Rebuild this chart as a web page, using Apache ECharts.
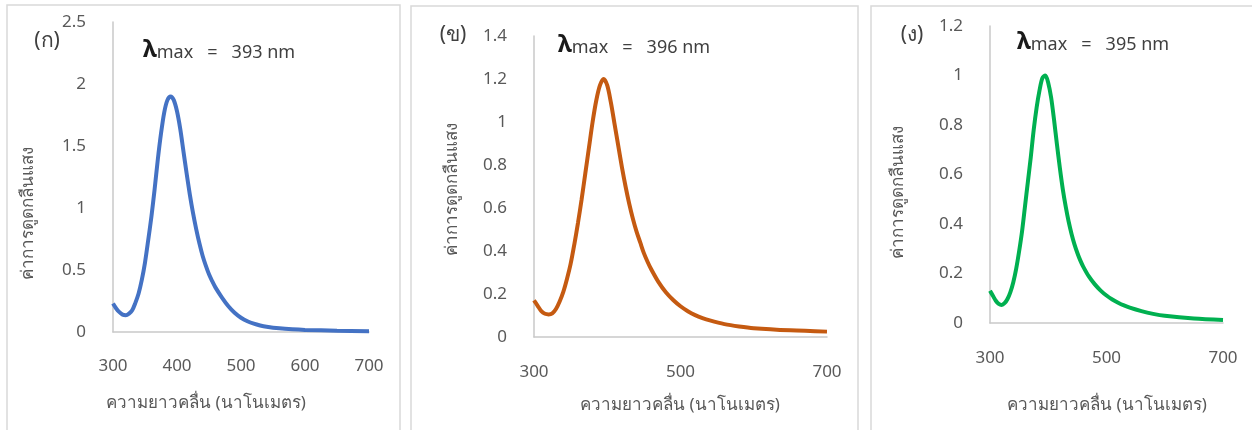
<!DOCTYPE html>
<html><head><meta charset="utf-8">
<script src="https://cdn.jsdelivr.net/npm/echarts@6/dist/echarts.min.js"></script>
<style>html,body{margin:0;padding:0;background:#fff}#c{width:1252px;height:430px}</style>
</head><body><div id="c"></div>
<script>
// Panel (ก)
const wl1 = [300,305,310,315,320,325,330,335,340,345,350,355,360,365,370,375,380,385,390,395,400,405,410,415,420,425,430,435,440,445,450,455,460,470,480,490,500,510,520,530,540,560,580,600,650,700];
const abs1 = [0.23,0.19,0.16,0.14,0.135,0.148,0.175,0.235,0.31,0.42,0.56,0.74,0.93,1.15,1.39,1.60,1.77,1.87,1.90,1.87,1.78,1.64,1.46,1.28,1.11,0.96,0.83,0.715,0.615,0.535,0.465,0.41,0.36,0.28,0.21,0.155,0.115,0.087,0.067,0.053,0.043,0.030,0.022,0.017,0.010,0.006];
// Panel (ข)
const wl2 = [300,305,310,315,320,325,330,335,340,345,350,355,360,365,370,375,380,385,390,395,400,405,410,415,420,425,430,435,440,445,450,455,460,470,480,490,500,510,520,530,540,560,580,600,650,700];
const abs2 = [0.17,0.145,0.12,0.108,0.105,0.11,0.13,0.165,0.21,0.27,0.34,0.43,0.53,0.64,0.76,0.88,1.00,1.10,1.17,1.20,1.17,1.09,0.99,0.89,0.79,0.70,0.62,0.55,0.49,0.44,0.39,0.35,0.315,0.255,0.208,0.172,0.143,0.12,0.102,0.088,0.077,0.060,0.049,0.041,0.031,0.025];
// Panel (ง)
const wl3 = [300,305,310,315,320,325,330,335,340,345,350,355,360,365,370,375,380,385,390,395,400,405,410,415,420,425,430,435,440,445,450,455,460,470,480,490,500,510,520,530,540,560,580,600,650,700];
const abs3 = [0.13,0.11,0.09,0.077,0.073,0.08,0.097,0.125,0.165,0.22,0.29,0.37,0.47,0.57,0.67,0.78,0.87,0.94,0.99,1.00,0.97,0.91,0.82,0.72,0.625,0.54,0.47,0.41,0.36,0.318,0.283,0.253,0.228,0.187,0.156,0.131,0.111,0.095,0.082,0.071,0.062,0.048,0.037,0.029,0.018,0.012];

const panelLabels = ['(ก)','(ข)','(ง)'];
const lambdaMax = [393, 396, 395];
const yMax = [2.5, 1.4, 1.2];
const yInterval = [0.5, 0.2, 0.2];
const xInterval = [100, 200, 200];
const xTitle = 'ความยาวคลื่น (นาโนเมตร)';
const yTitle = 'ค่าการดูดกลืนแสง';
const colors = ['#4472C4','#C55A11','#00B050'];

const FONT = '"Noto Sans", "DejaVu Sans", sans-serif';
const grids = [
  {left:113, top:22, width:256, height:310},
  {left:534, top:36, width:293, height:301},
  {left:990, top:26, width:233, height:297}
];
const pairs = (xs, ys) => xs.map((x,i)=>[x, ys[i]]);
const datasets = [pairs(wl1,abs1), pairs(wl2,abs2), pairs(wl3,abs3)];

const axisLine = {show:true, lineStyle:{color:'#c9c9c9', width:1.5}};
const xAxis = grids.map((g,i)=>({
  gridIndex:i, type:'value', min:300, max:700, interval:xInterval[i],
  axisLine: axisLine, axisTick:{show:false}, splitLine:{show:false},
  axisLabel:{color:'#595959', fontSize:17, fontFamily:FONT, margin:i===0?26:27}
}));
const yAxis = grids.map((g,i)=>({
  gridIndex:i, type:'value', min:0, max:yMax[i], interval:yInterval[i],
  axisLine: axisLine, axisTick:{show:false}, splitLine:{show:false},
  axisLabel:{color:'#595959', fontSize:17, fontFamily:FONT, margin:27}
}));
const series = datasets.map((d,i)=>({
  type:'line', xAxisIndex:i, yAxisIndex:i, data:d, smooth:0.3,
  showSymbol:false, lineStyle:{color:colors[i], width:4}, silent:true
}));

const frames = [
  {x:7, y:5, w:393, h:440},
  {x:411, y:6, w:447, h:440},
  {x:871, y:6, w:400, h:440}
];
const graphic = [];
frames.forEach(f=>graphic.push({type:'rect', shape:{x:f.x,y:f.y,width:f.w,height:f.h}, style:{fill:'none', stroke:'#d9d9d9', lineWidth:1.5}, z:-1}));
const plPos = [[47,41],[453,35],[912,35]];
panelLabels.forEach((t,i)=>graphic.push({type:'text', x:plPos[i][0], y:plPos[i][1], style:{text:t, fill:'#404040', font:'21px '+FONT, align:'center', verticalAlign:'middle'}}));
const lmPos = [[143,50],[558,45],[1017,42]];
lambdaMax.forEach((v,i)=>graphic.push({type:'text', x:lmPos[i][0], y:lmPos[i][1], style:{
  text:'{l|λ}{m|max   =   '+v+' nm}', verticalAlign:'middle', align:'left',
  rich:{l:{fontSize:24, fontWeight:'bold', fill:'#1a1a1a', fontFamily:FONT, verticalAlign:'bottom'}, m:{fontSize:18, fill:'#404040', fontFamily:FONT, verticalAlign:'bottom'}}
}}));
const ytPos = [[28,213],[452,189],[898,192]];
ytPos.forEach(p=>graphic.push({type:'text', x:p[0], y:p[1], rotation:Math.PI/2, style:{text:yTitle, fill:'#595959', font:'17px '+FONT, align:'center', verticalAlign:'middle'}}));
const xtPos = [[206,403],[680,405],[1107,405]];
xtPos.forEach(p=>graphic.push({type:'text', x:p[0], y:p[1], style:{text:xTitle, fill:'#595959', font:'17px '+FONT, align:'center', verticalAlign:'middle'}}));

const chart = echarts.init(document.getElementById('c'), null, {renderer:'canvas'});
chart.setOption({
  animation:false, backgroundColor:'#ffffff',
  grid: grids, xAxis, yAxis, series, graphic
});
</script></body></html>
